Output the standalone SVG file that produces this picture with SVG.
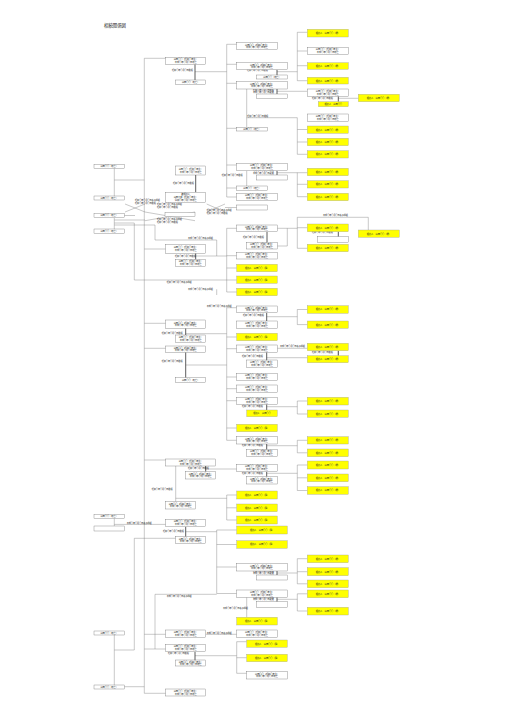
<svg xmlns="http://www.w3.org/2000/svg" width="509" height="720" viewBox="0 0 509 720">
<style>
.w{fill:#fff;stroke:#666;stroke-width:.35}
.y{fill:#ffff00;stroke:#999;stroke-width:.35}
.ln{stroke:#777;stroke-width:.4;fill:none}
.tk{stroke:#333;stroke-width:.8;fill:none}
text{font-family:"Noto Sans CJK JP","Liberation Sans",sans-serif;fill:#222}
.t{font-size:2.2px;text-anchor:middle}
.lb{font-size:2.1px}
.ti{font-size:4.4px}
</style>
<rect width="509" height="720" fill="#fff"/>
<text class="ti" x="104" y="26.5">相続関係図</text>
<g id="connectors">
<path class="ln" d="M144.3 58.3V693.3M144.3 58.3H165.7M195 71.7H226.7M226.7 44.3V197M226.7 44.3H236.7M226.7 64.3H236.7M226.7 83.3H236.7M226.7 128.3H236.7M226.7 165H236.7M226.7 188H236.7M226.7 197H236.7M277 71.7H297.3M297.3 32.3V80.7M297.3 32.3H307.3M297.3 51H307.3M297.3 65.7H307.3M297.3 80.7H307.3M277 91.3H307.3M338.3 98.3H358.3M246.7 89V127.3M246.7 117.7H297.3V154.3M297.3 129.5H307.3M297.3 142H307.3M297.3 154.3H307.3M277 172.7H307.3M297.3 172.7V196.7M297.3 184.3H307.3M297.3 196.7H307.3M246.7 170.7V186M114.3 168.3V196M114.3 180H144.3"/>
<path class="ln" d="M125 204L145 212M125 212L145 204M145 212L195 220.7M145 220.7L195 212M206.7 204L225 212M206.7 212L225 204M124.3 215.5H135M114.3 217.7V229M114.3 220H145M114.3 225H155V240H216.7V256M114.3 223H134.3V280H236.7M225 207.5H236.7"/>
<path class="ln" d="M226.7 228.3V292M226.7 228.3H236.7M277.3 228.3H297.3M287.3 228.3V246H277.3M297.3 217.3V248.3M297.3 217.3H368.3V230M297.3 227.7H307.3M297.3 248.3H307.3M144.3 249H165.7M195.7 256H226.7M226.7 255.7H236.7M226.7 268H236.7M226.7 292H236.7M216.7 289.3V295"/>
<path class="ln" d="M226.7 307.7V440.3M226.7 307.7H236.7M266.7 316.7H297.3M297.3 309.5V324.6M297.3 309.5H307.3M297.3 324.6H307.3M226.7 337H236.7M226.7 348.7H236.7M277.3 348.3H307.3M338.3 350.7V355.7M266.7 357.7H307.3M226.7 377H236.7M226.7 388.7H236.7M226.7 400.7H236.7M266.7 406.7H297.3M297.3 401V414M297.3 401H307.3M297.3 414H307.3M226.7 428H236.7M226.7 440.3H236.7M266.7 445.7H297.3M297.3 440.3V452.8M297.3 440.3H307.3M297.3 452.8H307.3M144.3 323.3H165.7M185.7 333.7H226.7M144.3 348.3H165.7M185.7 365H226.7"/>
<path class="ln" d="M144.3 460H165.7M205.7 469H236.7M266.7 473.3H297.3M297.3 465V490.5M297.3 465H307.3M297.3 477.8H307.3M297.3 490.5H307.3M175.7 466V501.7M175.7 498.3H226.7M226.7 495V520M226.7 495H236.7M226.7 507.8H236.7M226.7 520H236.7M114.3 518.3V526M114.3 524.4H165.7M185.7 531.7H216.7M216.7 530V593.5M216.7 530H236.7M216.7 544.5H236.7M216.7 567H236.7M216.7 593.5H236.7M134.3 538.3H175.7M134.3 538.3V650H114.3M114.3 635V685M124.3 686.7H144.3"/>
<path class="ln" d="M277 573H297.3M297.3 558.7V583.8M297.3 558.7H307.3M297.3 571.7H307.3M297.3 583.8H307.3M277 599.3H297.3M297.3 593.8V611M297.3 593.8H307.3M297.3 611H307.3M246.7 597.3V617.3M144.3 634.3H165.7M205.7 634.3H236.7M144.3 649H165.7M195 655.7H236.7M236.7 641.7V673.3M236.7 641.7H246.7M236.7 657.7H246.7M236.7 673.3H246.7M144.3 693.3H165.7M155 594.3H216.7M155 594.3V649"/>
<path class="tk" d="M195 64.3V80M277 69.7V75M277 89V94M338.3 96.3V101.7M277 170.7V175M195.7 175V192.3M267 231.7V242.3M338.3 231.7V236.7M195.7 253.3V259.3M266.7 312.7V321M185.7 328.3V335M185.7 352.3V377.7M338.3 350.7V355.7M266.7 352.3V360M266.7 404.3V410M266.7 444V449.3M205.7 466V471.7M266.7 471.7V476.7M185.7 526.7V536.7M277 571V575M277 597.3V601.7M195 651.7V660"/>
</g>
<g id="labels">
<text class="lb" x="172" y="70.5">昭和〇年〇月〇日婚姻</text>
<text class="lb" x="247" y="71.4">昭和〇年〇月〇日婚姻</text>
<text class="lb" x="253" y="90.6">昭和〇年〇月〇日婚姻</text>
<text class="lb" x="253" y="93.1">平成〇年〇月〇日離婚</text>
<text class="lb" x="312" y="99">昭和〇年〇月〇日婚姻</text>
<text class="lb" x="247.3" y="116.8">昭和〇年〇月〇日婚姻</text>
<text class="lb" x="173" y="184.4">昭和〇年〇月〇日婚姻</text>
<text class="lb" x="221.7" y="176.4">昭和〇年〇月〇日婚姻</text>
<text class="lb" x="253" y="171.1">昭和〇年〇月〇日婚姻</text>
<text class="lb" x="253" y="173.6">平成〇年〇月〇日離婚</text>
<text class="lb" x="135" y="201.3">昭和〇年〇月〇日養子縁組</text>
<text class="lb" x="135" y="203.8">昭和〇年〇月〇日婚姻</text>
<text class="lb" x="157" y="205.4">昭和〇年〇月〇日養子縁組</text>
<text class="lb" x="157" y="207.9">昭和〇年〇月〇日婚姻</text>
<text class="lb" x="206.7" y="211.4">昭和〇年〇月〇日養子縁組</text>
<text class="lb" x="206.7" y="213.9">昭和〇年〇月〇日婚姻</text>
<text class="lb" x="157" y="220.4">昭和〇年〇月〇日養子縁組</text>
<text class="lb" x="157" y="222.9">昭和〇年〇月〇日婚姻</text>
<text class="lb" x="323" y="216.4">平成〇年〇月〇日養子縁組</text>
<text class="lb" x="312" y="233">昭和〇年〇月〇日婚姻</text>
<text class="lb" x="243" y="238.2">昭和〇年〇月〇日婚姻</text>
<text class="lb" x="188" y="239">平成〇年〇月〇日養子縁組</text>
<text class="lb" x="175" y="256.7">昭和〇年〇月〇日婚姻</text>
<text class="lb" x="166.7" y="282.6">昭和〇年〇月〇日養子縁組</text>
<text class="lb" x="188" y="290">平成〇年〇月〇日養子縁組</text>
<text class="lb" x="206.7" y="307.4">平成〇年〇月〇日養子縁組</text>
<text class="lb" x="243" y="316.4">昭和〇年〇月〇日婚姻</text>
<text class="lb" x="161.7" y="334.4">昭和〇年〇月〇日婚姻</text>
<text class="lb" x="280" y="347.4">平成〇年〇月〇日養子縁組</text>
<text class="lb" x="312" y="353">昭和〇年〇月〇日婚姻</text>
<text class="lb" x="242" y="356.7">昭和〇年〇月〇日婚姻</text>
<text class="lb" x="161.7" y="361.7">昭和〇年〇月〇日婚姻</text>
<text class="lb" x="242" y="407.4">昭和〇年〇月〇日婚姻</text>
<text class="lb" x="242" y="446.4">昭和〇年〇月〇日婚姻</text>
<text class="lb" x="188" y="469">昭和〇年〇月〇日婚姻</text>
<text class="lb" x="242" y="474">昭和〇年〇月〇日婚姻</text>
<text class="lb" x="151.7" y="490">昭和〇年〇月〇日婚姻</text>
<text class="lb" x="126.7" y="523.8">平成〇年〇月〇日養子縁組</text>
<text class="lb" x="163" y="532.4">昭和〇年〇月〇日婚姻</text>
<text class="lb" x="253" y="571.5">昭和〇年〇月〇日婚姻</text>
<text class="lb" x="253" y="574">平成〇年〇月〇日離婚</text>
<text class="lb" x="166.7" y="596.8">平成〇年〇月〇日養子縁組</text>
<text class="lb" x="253" y="597.8">昭和〇年〇月〇日婚姻</text>
<text class="lb" x="253" y="600.3">平成〇年〇月〇日離婚</text>
<text class="lb" x="223" y="609">平成〇年〇月〇日養子縁組</text>
<text class="lb" x="206.7" y="634">平成〇年〇月〇日養子縁組</text>
<text class="lb" x="168" y="654.4">昭和〇年〇月〇日婚姻</text>
</g>
<g id="A1"><rect class="w" x="94" y="164.3" width="30.3" height="4"/><text class="t" x="109.2" y="167.1">山田〇〇（死亡）</text></g>
<g id="A2"><rect class="w" x="94" y="196" width="30.3" height="4"/><text class="t" x="109.2" y="198.8">山田〇〇（死亡）</text></g>
<g id="A3"><rect class="w" x="94" y="213.3" width="30.3" height="4.4"/><text class="t" x="109.2" y="216.3">山田〇〇（死亡）</text></g>
<g id="A4"><rect class="w" x="94" y="229" width="30.3" height="4.3"/><text class="t" x="109.2" y="232">山田〇〇（死亡）</text></g>
<g id="A5"><rect class="w" x="94" y="514.3" width="30.3" height="4"/><text class="t" x="109.2" y="517.1">山田〇〇（死亡）</text></g>
<g id="A6"><rect class="w" x="94" y="526" width="30.3" height="5"/></g>
<g id="A7"><rect class="w" x="94" y="631" width="30.3" height="4"/><text class="t" x="109.2" y="633.8">山田〇〇（死亡）</text></g>
<g id="A8"><rect class="w" x="94" y="685" width="30.3" height="4"/><text class="t" x="109.2" y="687.8">山田〇〇（死亡）</text></g>
<g id="B1"><rect class="w" x="165.7" y="57.3" width="40" height="7"/><text class="t" x="185.7" y="60.3">山田〇〇（昭和〇年生）</text><text class="t" x="185.7" y="62.9">平成〇年〇月〇日死亡</text></g>
<g id="B1s"><rect class="w" x="175.7" y="80" width="30" height="4.3"/><text class="t" x="190.7" y="82.9">山田〇〇（死亡）</text></g>
<g id="B2s"><rect class="w" x="175.7" y="166" width="30" height="9"/><text class="t" x="190.7" y="170">山田〇〇（昭和〇年生）</text><text class="t" x="190.7" y="172.6">平成〇年〇月〇日死亡</text></g>
<g id="B2"><rect class="w" x="165.7" y="192.3" width="40" height="10"/><text class="t" x="185.7" y="195">被相続人</text><text class="t" x="185.7" y="198.1">山田太郎（昭和〇年生）</text><text class="t" x="185.7" y="200.9">令和〇年〇月〇日死亡</text></g>
<g id="B2x"><rect class="w" x="165" y="212.3" width="30" height="4.4"/></g>
<g id="B3"><rect class="w" x="165.7" y="244.3" width="40" height="9"/><text class="t" x="185.7" y="248.3">山田〇〇（昭和〇年生）</text><text class="t" x="185.7" y="250.9">平成〇年〇月〇日死亡</text></g>
<g id="B3s"><rect class="w" x="175.7" y="259.3" width="30" height="7.4"/><text class="t" x="190.7" y="262.4">山田〇〇（昭和〇年生）</text><text class="t" x="190.7" y="265">平成〇年〇月〇日死亡</text></g>
<g id="B5"><rect class="w" x="165.7" y="320" width="40" height="8.3"/><text class="t" x="185.7" y="323.6">山田〇〇（昭和〇年生）</text><text class="t" x="185.7" y="326.2">平成〇年〇月〇日死亡</text></g>
<g id="B5s"><rect class="w" x="175.7" y="335" width="30" height="7.3"/><text class="t" x="190.7" y="338.1">山田〇〇（昭和〇年生）</text><text class="t" x="190.7" y="340.7">平成〇年〇月〇日死亡</text></g>
<g id="B4"><rect class="w" x="165.7" y="346" width="40" height="6.3"/><text class="t" x="185.7" y="348.6">山田〇〇（昭和〇年生）</text><text class="t" x="185.7" y="351.2">平成〇年〇月〇日死亡</text></g>
<g id="B4s"><rect class="w" x="175.7" y="377.7" width="30" height="4.6"/><text class="t" x="190.7" y="380.8">山田〇〇（死亡）</text></g>
<g id="B6"><rect class="w" x="165.7" y="459" width="50" height="7"/><text class="t" x="190.7" y="462">山田〇〇（昭和〇年生）</text><text class="t" x="190.7" y="464.6">平成〇年〇月〇日死亡</text></g>
<g id="B6s"><rect class="w" x="185.7" y="471.7" width="30" height="7.3"/><text class="t" x="200.7" y="474.8">山田〇〇（昭和〇年生）</text><text class="t" x="200.7" y="477.4">平成〇年〇月〇日死亡</text></g>
<g id="B7"><rect class="w" x="165.7" y="501.7" width="30" height="7.3"/><text class="t" x="180.7" y="504.8">山田〇〇（昭和〇年生）</text><text class="t" x="180.7" y="507.4">平成〇年〇月〇日死亡</text></g>
<g id="B8"><rect class="w" x="165.7" y="519.3" width="40" height="7.4"/><text class="t" x="185.7" y="522.4">山田〇〇（昭和〇年生）</text><text class="t" x="185.7" y="525">平成〇年〇月〇日死亡</text></g>
<g id="B8s"><rect class="w" x="175.7" y="536.7" width="30" height="6.6"/><text class="t" x="190.7" y="539.5">山田〇〇（昭和〇年生）</text><text class="t" x="190.7" y="542.1">平成〇年〇月〇日死亡</text></g>
<g id="B9"><rect class="w" x="165.7" y="630" width="40" height="7.3"/><text class="t" x="185.7" y="633.1">山田〇〇（昭和〇年生）</text><text class="t" x="185.7" y="635.7">平成〇年〇月〇日死亡</text></g>
<g id="B10"><rect class="w" x="165.7" y="644.3" width="40" height="7.4"/><text class="t" x="185.7" y="647.4">山田〇〇（昭和〇年生）</text><text class="t" x="185.7" y="650">平成〇年〇月〇日死亡</text></g>
<g id="B10s"><rect class="w" x="175.7" y="660" width="30" height="6"/><text class="t" x="190.7" y="662.6">山田〇〇（昭和〇年生）</text><text class="t" x="190.7" y="665.2">平成〇年〇月〇日死亡</text></g>
<g id="B11"><rect class="w" x="165.7" y="689" width="40" height="7"/><text class="t" x="185.7" y="692">山田〇〇（昭和〇年生）</text><text class="t" x="185.7" y="694.6">平成〇年〇月〇日死亡</text></g>
<g id="C1"><rect class="w" x="236.7" y="42.7" width="40.6" height="7"/><text class="t" x="257" y="45.7">山田〇〇（昭和〇年生）</text><text class="t" x="257" y="48.3">平成〇年〇月〇日死亡</text></g>
<g id="C2"><rect class="w" x="236.7" y="62.7" width="50.6" height="7"/><text class="t" x="262" y="65.7">山田〇〇（昭和〇年生）</text><text class="t" x="262" y="68.3">平成〇年〇月〇日死亡</text></g>
<g id="C2s"><rect class="w" x="256.7" y="75" width="30.6" height="4"/><text class="t" x="272" y="77.8">山田〇〇（死亡）</text></g>
<g id="C3"><rect class="w" x="236.7" y="81.7" width="50.6" height="7.3"/><text class="t" x="262" y="84.8">山田〇〇（昭和〇年生）</text><text class="t" x="262" y="87.4">平成〇年〇月〇日死亡</text></g>
<g id="C3s"><rect class="w" x="256.7" y="94" width="30.6" height="4.3"/></g>
<g id="C4"><rect class="w" x="236.7" y="127.3" width="30.6" height="3.7"/><text class="t" x="252" y="129.9">山田〇〇（死亡）</text></g>
<g id="C5"><rect class="w" x="236.7" y="163.3" width="50.6" height="7.4"/><text class="t" x="262" y="166.4">山田〇〇（昭和〇年生）</text><text class="t" x="262" y="169">平成〇年〇月〇日死亡</text></g>
<g id="C5s"><rect class="w" x="256.7" y="175" width="30.6" height="5"/></g>
<g id="C6"><rect class="w" x="236.7" y="186" width="30.6" height="4.3"/><text class="t" x="252" y="188.9">山田〇〇（死亡）</text></g>
<g id="C7"><rect class="w" x="236.7" y="193.3" width="40.6" height="7.4"/><text class="t" x="257" y="196.4">山田〇〇（昭和〇年生）</text><text class="t" x="257" y="199">平成〇年〇月〇日死亡</text></g>
<g id="C8"><rect class="w" x="236.7" y="205" width="30.6" height="5"/></g>
<g id="C9"><rect class="w" x="236.7" y="225" width="40.6" height="6.7"/><text class="t" x="257" y="227.8">山田〇〇（昭和〇年生）</text><text class="t" x="257" y="230.4">平成〇年〇月〇日死亡</text></g>
<g id="C9s"><rect class="w" x="246.7" y="242.3" width="30.6" height="6.7"/><text class="t" x="262" y="245.1">山田〇〇（昭和〇年生）</text><text class="t" x="262" y="247.7">平成〇年〇月〇日死亡</text></g>
<g id="C10"><rect class="w" x="236.7" y="252.3" width="40.6" height="6.7"/><text class="t" x="257" y="255.1">山田〇〇（昭和〇年生）</text><text class="t" x="257" y="257.7">平成〇年〇月〇日死亡</text></g>
<g id="C11"><rect class="y" x="236.7" y="264.3" width="40.6" height="7.4"/><text class="t" x="257" y="268.8">相続人　山田〇〇（孫）</text></g>
<g id="C12"><rect class="y" x="236.7" y="276" width="40.6" height="7.3"/><text class="t" x="257" y="280.5">相続人　山田〇〇（孫）</text></g>
<g id="C13"><rect class="y" x="236.7" y="288.3" width="40.6" height="7.4"/><text class="t" x="257" y="292.8">相続人　山田〇〇（孫）</text></g>
<g id="C14"><rect class="w" x="236.7" y="306" width="40.6" height="6.7"/><text class="t" x="257" y="308.8">山田〇〇（昭和〇年生）</text><text class="t" x="257" y="311.4">平成〇年〇月〇日死亡</text></g>
<g id="C15"><rect class="w" x="236.7" y="321" width="40.6" height="7.3"/><text class="t" x="257" y="324.1">山田〇〇（昭和〇年生）</text><text class="t" x="257" y="326.7">平成〇年〇月〇日死亡</text></g>
<g id="C16"><rect class="y" x="236.7" y="333.3" width="40.6" height="7.4"/><text class="t" x="257" y="337.8">相続人　山田〇〇（孫）</text></g>
<g id="C17"><rect class="w" x="236.7" y="345" width="40.6" height="7.3"/><text class="t" x="257" y="348.1">山田〇〇（昭和〇年生）</text><text class="t" x="257" y="350.7">平成〇年〇月〇日死亡</text></g>
<g id="C17s"><rect class="w" x="246.7" y="360" width="30.6" height="7.3"/><text class="t" x="262" y="363.1">山田〇〇（昭和〇年生）</text><text class="t" x="262" y="365.7">平成〇年〇月〇日死亡</text></g>
<g id="C18"><rect class="w" x="236.7" y="373.3" width="40.6" height="7.4"/><text class="t" x="257" y="376.4">山田〇〇（昭和〇年生）</text><text class="t" x="257" y="379">平成〇年〇月〇日死亡</text></g>
<g id="C19"><rect class="w" x="236.7" y="385" width="40.6" height="7.3"/><text class="t" x="257" y="388.1">山田〇〇（昭和〇年生）</text><text class="t" x="257" y="390.7">平成〇年〇月〇日死亡</text></g>
<g id="C20"><rect class="w" x="236.7" y="397.3" width="40.6" height="7"/><text class="t" x="257" y="400.3">山田〇〇（昭和〇年生）</text><text class="t" x="257" y="402.9">平成〇年〇月〇日死亡</text></g>
<g id="C20s"><rect class="y" x="246.7" y="410" width="30.6" height="6.7"/><text class="t" x="262" y="414.2">相続人　山田〇〇</text></g>
<g id="C21"><rect class="y" x="236.7" y="424.3" width="40.6" height="7.4"/><text class="t" x="257" y="428.8">相続人　山田〇〇（孫）</text></g>
<g id="C22"><rect class="w" x="236.7" y="436.7" width="40.6" height="7.3"/><text class="t" x="257" y="439.8">山田〇〇（昭和〇年生）</text><text class="t" x="257" y="442.4">平成〇年〇月〇日死亡</text></g>
<g id="C22s"><rect class="w" x="246.7" y="449.3" width="30.6" height="7.4"/><text class="t" x="262" y="452.4">山田〇〇（昭和〇年生）</text><text class="t" x="262" y="455">平成〇年〇月〇日死亡</text></g>
<g id="C23"><rect class="w" x="236.7" y="464.3" width="40.6" height="7.4"/><text class="t" x="257" y="467.4">山田〇〇（昭和〇年生）</text><text class="t" x="257" y="470">平成〇年〇月〇日死亡</text></g>
<g id="C23s"><rect class="w" x="246.7" y="476.7" width="30.6" height="7.3"/><text class="t" x="262" y="479.8">山田〇〇（昭和〇年生）</text><text class="t" x="262" y="482.4">平成〇年〇月〇日死亡</text></g>
<g id="C24"><rect class="y" x="236.7" y="491" width="40.6" height="8"/><text class="t" x="257" y="495.8">相続人　山田〇〇（孫）</text></g>
<g id="C25"><rect class="y" x="236.7" y="504" width="40.6" height="7.7"/><text class="t" x="257" y="508.6">相続人　山田〇〇（孫）</text></g>
<g id="C26"><rect class="y" x="236.7" y="516" width="40.6" height="8"/><text class="t" x="257" y="520.8">相続人　山田〇〇（孫）</text></g>
<g id="C27"><rect class="y" x="236.7" y="526" width="50.6" height="8"/><text class="t" x="262" y="530.8">相続人　山田〇〇（孫）</text></g>
<g id="C28"><rect class="y" x="236.7" y="540.7" width="50.6" height="7.6"/><text class="t" x="262" y="545.3">相続人　山田〇〇（孫）</text></g>
<g id="C29"><rect class="w" x="236.7" y="563.3" width="50.6" height="7.7"/><text class="t" x="262" y="566.5">山田〇〇（昭和〇年生）</text><text class="t" x="262" y="569.1">平成〇年〇月〇日死亡</text></g>
<g id="C29s"><rect class="w" x="256.7" y="575" width="30.6" height="5"/></g>
<g id="C30"><rect class="w" x="236.7" y="590" width="50.6" height="7.3"/><text class="t" x="262" y="593.1">山田〇〇（昭和〇年生）</text><text class="t" x="262" y="595.7">平成〇年〇月〇日死亡</text></g>
<g id="C30s"><rect class="w" x="256.7" y="601.7" width="30.6" height="5.6"/></g>
<g id="C31"><rect class="y" x="236.7" y="617.3" width="40.6" height="7.7"/><text class="t" x="257" y="621.9">相続人　山田〇〇（孫）</text></g>
<g id="C32"><rect class="w" x="236.7" y="630" width="40.6" height="7.3"/><text class="t" x="257" y="633.1">山田〇〇（昭和〇年生）</text><text class="t" x="257" y="635.7">平成〇年〇月〇日死亡</text></g>
<g id="C33"><rect class="y" x="246.7" y="640" width="40.6" height="7.3"/><text class="t" x="267" y="644.5">相続人　山田〇〇（孫）</text></g>
<g id="C34"><rect class="y" x="246.7" y="654.3" width="40.6" height="7.4"/><text class="t" x="267" y="658.8">相続人　山田〇〇（孫）</text></g>
<g id="C35"><rect class="w" x="246.7" y="671.7" width="40.6" height="7.3"/><text class="t" x="267" y="674.8">山田〇〇（昭和〇年生）</text><text class="t" x="267" y="677.4">平成〇年〇月〇日死亡</text></g>
<g id="D1"><rect class="y" x="307.3" y="29.3" width="41" height="7.7"/><text class="t" x="327.8" y="33.9">相続人　山田〇〇（甥）</text></g>
<g id="D2"><rect class="w" x="307.3" y="47.3" width="41" height="7.4"/><text class="t" x="327.8" y="50.4">山田〇〇（昭和〇年生）</text><text class="t" x="327.8" y="53">平成〇年〇月〇日死亡</text></g>
<g id="D3"><rect class="y" x="307.3" y="62.7" width="41" height="6.6"/><text class="t" x="327.8" y="66.8">相続人　山田〇〇（甥）</text></g>
<g id="D4"><rect class="y" x="307.3" y="77.3" width="41" height="6.7"/><text class="t" x="327.8" y="81.5">相続人　山田〇〇（甥）</text></g>
<g id="D5"><rect class="w" x="307.3" y="89" width="41" height="7.3"/><text class="t" x="327.8" y="92.1">山田〇〇（昭和〇年生）</text><text class="t" x="327.8" y="94.7">平成〇年〇月〇日死亡</text></g>
<g id="D5s"><rect class="y" x="318.3" y="101.7" width="30" height="5"/><text class="t" x="333.3" y="105">相続人　山田〇〇</text></g>
<g id="D6"><rect class="w" x="307.3" y="114" width="41" height="7.7"/><text class="t" x="327.8" y="117.3">山田〇〇（昭和〇年生）</text><text class="t" x="327.8" y="119.9">平成〇年〇月〇日死亡</text></g>
<g id="D7"><rect class="y" x="307.3" y="126" width="41" height="7.3"/><text class="t" x="327.8" y="130.5">相続人　山田〇〇（甥）</text></g>
<g id="D8"><rect class="y" x="307.3" y="138.3" width="41" height="7.4"/><text class="t" x="327.8" y="142.8">相続人　山田〇〇（甥）</text></g>
<g id="D9"><rect class="y" x="307.3" y="150.7" width="41" height="7.3"/><text class="t" x="327.8" y="155.2">相続人　山田〇〇（甥）</text></g>
<g id="D10"><rect class="y" x="307.3" y="168.3" width="41" height="7.4"/><text class="t" x="327.8" y="172.8">相続人　山田〇〇（甥）</text></g>
<g id="D11"><rect class="y" x="307.3" y="180.7" width="41" height="7.3"/><text class="t" x="327.8" y="185.2">相続人　山田〇〇（甥）</text></g>
<g id="D12"><rect class="y" x="307.3" y="193.3" width="41" height="7.4"/><text class="t" x="327.8" y="197.8">相続人　山田〇〇（甥）</text></g>
<g id="D13"><rect class="y" x="307.3" y="224" width="41" height="7.7"/><text class="t" x="327.8" y="228.6">相続人　山田〇〇（甥）</text></g>
<g id="D13s"><rect class="w" x="317.7" y="236.7" width="30.6" height="5.6"/></g>
<g id="D14"><rect class="y" x="307.3" y="244.3" width="41" height="7.4"/><text class="t" x="327.8" y="248.8">相続人　山田〇〇（甥）</text></g>
<g id="D15"><rect class="y" x="307.3" y="305.7" width="41" height="7.6"/><text class="t" x="327.8" y="310.3">相続人　山田〇〇（甥）</text></g>
<g id="D16"><rect class="y" x="307.3" y="321" width="41" height="7.3"/><text class="t" x="327.8" y="325.5">相続人　山田〇〇（甥）</text></g>
<g id="D17"><rect class="y" x="307.3" y="343.3" width="41" height="7.4"/><text class="t" x="327.8" y="347.8">相続人　山田〇〇（甥）</text></g>
<g id="D17s"><rect class="y" x="307.3" y="355.7" width="41" height="7"/><text class="t" x="327.8" y="360">相続人　山田〇〇（甥）</text></g>
<g id="D18"><rect class="y" x="307.3" y="397.3" width="41" height="7.7"/><text class="t" x="327.8" y="401.9">相続人　山田〇〇（甥）</text></g>
<g id="D19"><rect class="y" x="307.3" y="410" width="41" height="7.3"/><text class="t" x="327.8" y="414.5">相続人　山田〇〇（甥）</text></g>
<g id="D20"><rect class="y" x="307.3" y="436.7" width="41" height="7.3"/><text class="t" x="327.8" y="441.2">相続人　山田〇〇（甥）</text></g>
<g id="D21"><rect class="y" x="307.3" y="449" width="41" height="7.7"/><text class="t" x="327.8" y="453.6">相続人　山田〇〇（甥）</text></g>
<g id="D22"><rect class="y" x="307.3" y="461" width="41" height="8"/><text class="t" x="327.8" y="465.8">相続人　山田〇〇（甥）</text></g>
<g id="D23"><rect class="y" x="307.3" y="474" width="41" height="7.7"/><text class="t" x="327.8" y="478.6">相続人　山田〇〇（甥）</text></g>
<g id="D24"><rect class="y" x="307.3" y="486.7" width="41" height="7.6"/><text class="t" x="327.8" y="491.3">相続人　山田〇〇（甥）</text></g>
<g id="D25"><rect class="y" x="307.3" y="555" width="41" height="7.7"/><text class="t" x="327.8" y="559.6">相続人　山田〇〇（甥）</text></g>
<g id="D26"><rect class="y" x="307.3" y="567.7" width="41" height="8"/><text class="t" x="327.8" y="572.5">相続人　山田〇〇（甥）</text></g>
<g id="D27"><rect class="y" x="307.3" y="580" width="41" height="7.7"/><text class="t" x="327.8" y="584.6">相続人　山田〇〇（甥）</text></g>
<g id="D28"><rect class="y" x="307.3" y="590" width="41" height="7.7"/><text class="t" x="327.8" y="594.6">相続人　山田〇〇（甥）</text></g>
<g id="D29"><rect class="y" x="307.3" y="607.3" width="41" height="7.7"/><text class="t" x="327.8" y="611.9">相続人　山田〇〇（甥）</text></g>
<g id="E1"><rect class="y" x="358.3" y="94.3" width="41" height="7.4"/><text class="t" x="378.8" y="98.8">相続人　山田〇〇（甥）</text></g>
<g id="E2"><rect class="y" x="358.3" y="230" width="41" height="7.3"/><text class="t" x="378.8" y="234.5">相続人　山田〇〇（甥）</text></g>
</svg>
